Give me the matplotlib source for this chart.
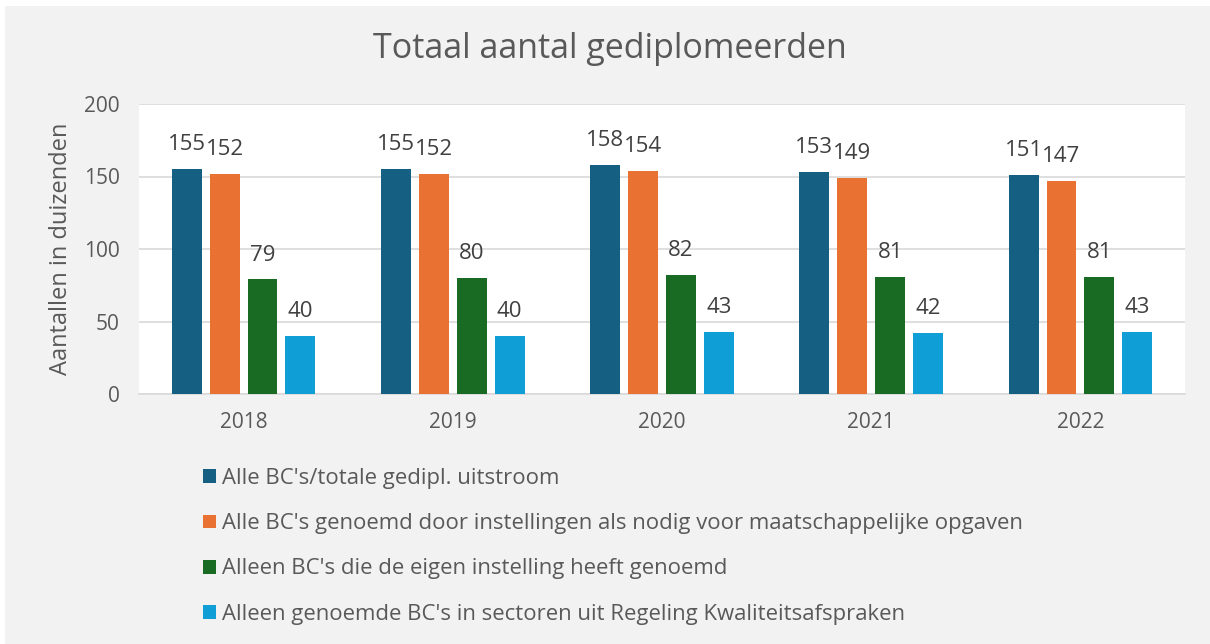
import numpy as np
import matplotlib.pyplot as plt
from matplotlib.patches import Rectangle

# data
years = ["2018", "2019", "2020", "2021", "2022"]
alle_bc = [155, 155, 158, 153, 151]
alle_genoemd = [152, 152, 154, 149, 147]
eigen_instelling = [79, 80, 82, 81, 81]
kwaliteitsafspraken = [40, 40, 43, 42, 43]

series_names = [
    "Alle BC's/totale gedipl. uitstroom",
    "Alle BC's genoemd door instellingen als nodig voor maatschappelijke opgaven",
    "Alleen BC's die de eigen instelling heeft genoemd",
    "Alleen genoemde BC's in sectoren uit Regeling Kwaliteitsafspraken",
]
colors = ["#156082", "#e97132", "#196b24", "#0f9ed5"]

plt.rcParams["font.family"] = ["Open Sans", "DejaVu Sans"]
text_color = "#595959"

fig = plt.figure(figsize=(12.1, 6.44), dpi=100, facecolor="white")
# gray chart background
fig.patches.append(Rectangle((5 / 1210, 0), 1, 1 - 6 / 644, transform=fig.transFigure,
                             facecolor="#f2f2f2", edgecolor="none", zorder=-10))

ax = fig.add_axes([139 / 1210, 1 - 394 / 644, (1185 - 139) / 1210, (394 - 104) / 644])
ax.set_facecolor("white")

x = np.arange(len(years))
width = 0.143
pitch = 0.181
all_series = [alle_bc, alle_genoemd, eigen_instelling, kwaliteitsafspraken]
for i, (vals, col, name) in enumerate(zip(all_series, colors, series_names)):
    pos = x + (i - 1.5) * pitch
    ax.bar(pos, vals, width, color=col, label=name, zorder=3)
    for p, v in zip(pos, vals):
        ax.annotate(str(v), (p, v), xytext=(0, 13.5), textcoords="offset points",
                    ha="center", va="baseline", fontsize=16, color="#404040")

ax.set_xlim(-0.5, len(years) - 0.5)
ax.set_ylim(0, 200)
ax.set_yticks([0, 50, 100, 150, 200])
ax.set_xticks(x)
ax.set_xticklabels(years)
ax.tick_params(axis="both", length=0, labelsize=15, labelcolor=text_color)
ax.tick_params(axis="x", pad=13)
ax.tick_params(axis="y", pad=14)
ax.grid(axis="y", color="#d9d9d9", linewidth=1.2, zorder=0)
for s in ["top", "right", "left"]:
    ax.spines[s].set_visible(False)
ax.spines["bottom"].set_color("#d9d9d9")
ax.spines["bottom"].set_linewidth(1.2)

ax.set_ylabel("Aantallen in duizenden", fontsize=17, color=text_color, labelpad=8)

fig.text(610 / 1210, 1 - 49 / 644, "Totaal aantal gediplomeerden", ha="center", va="center",
         fontsize=24.5, color=text_color)

fig.legend(loc="upper left", bbox_to_anchor=(183 / 1210, 1 - 448 / 644), ncol=1,
           frameon=False, fontsize=15.9, labelcolor=text_color, handlelength=0.58,
           handleheight=0.58, handletextpad=0.28, labelspacing=1.1)

plt.savefig("out.png", dpi=100, facecolor=fig.get_facecolor())
